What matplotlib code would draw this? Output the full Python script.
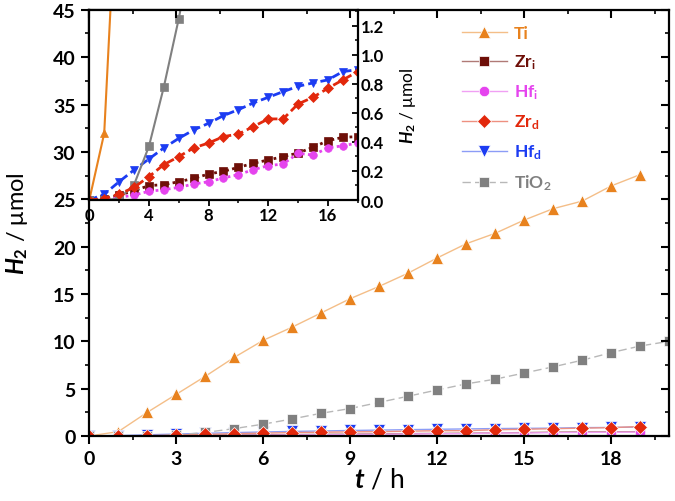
import numpy as np
import matplotlib
matplotlib.use('Agg')
import matplotlib.pyplot as plt
from matplotlib.ticker import MultipleLocator

plt.rcParams['font.family'] = ['Lato', 'DejaVu Sans']
plt.rcParams['font.weight'] = 'bold'
plt.rcParams['mathtext.fontset'] = 'custom'
plt.rcParams['mathtext.it'] = 'Lato:bold:italic'
plt.rcParams['mathtext.rm'] = 'Lato:bold'
plt.rcParams['mathtext.bf'] = 'Lato:bold'

# time in hours
t = np.arange(0, 21)

# H2 in umol
ti = [0, 0.46, 2.5, 4.4, 6.3, 8.3, 10.1, 11.5, 13.0, 14.5, 15.8, 17.2, 18.8, 20.3,
      21.4, 22.8, 24.0, 24.8, 26.4, 27.6]
tio2 = [0, 0.0, 0.01, 0.105, 0.37, 0.78, 1.25, 1.8, 2.4, 2.9, 3.55, 4.2, 4.86, 5.5,
        6.0, 6.65, 7.3, 8.0, 8.8, 9.5, 10.0]
zr_i = [0, 0.005, 0.034, 0.064, 0.099, 0.106, 0.126, 0.149, 0.179, 0.198, 0.225, 0.253,
        0.276, 0.299, 0.324, 0.363, 0.409, 0.432, 0.437, 0.46]
hf_i = [0, 0.0, 0.018, 0.034, 0.06, 0.071, 0.087, 0.11, 0.126, 0.152, 0.175, 0.209,
        0.237, 0.248, 0.322, 0.31, 0.359, 0.374, 0.393, 0.41]
zr_d = [0, 0.01, 0.04, 0.087, 0.161, 0.244, 0.299, 0.359, 0.393, 0.437, 0.455, 0.506,
        0.559, 0.559, 0.662, 0.708, 0.77, 0.828, 0.885, 1.0]
hf_d = [0, 0.04, 0.126, 0.207, 0.283, 0.359, 0.425, 0.483, 0.529, 0.582, 0.623, 0.669,
        0.708, 0.747, 0.784, 0.807, 0.828, 0.885, 0.899, 0.95]

# name, data, color, light line color, marker, main ms, inset linestyle
series = [
    ('Ti', ti, '#E8821E', '#F4BE88', '^', 9, '-'),
    ('Zr$_\\mathregular{i}$', zr_i, '#6E0F08', '#B07A76', 's', 7, (0, (1, 1.2))),
    ('Hf$_\\mathregular{i}$', hf_i, '#E544EE', '#F0A0F4', 'o', 7.5, (0, (1, 1.2))),
    ('Hf$_\\mathregular{d}$', hf_d, '#1C3CF2', '#8C9CF6', 'v', 8, (0, (3, 1.5))),
    ('TiO$_\\mathregular{2}$', tio2, '#808080', '#B8B8B8', 's', 7.5, '-'),
    ('Zr$_\\mathregular{d}$', zr_d, '#E2280C', '#EE9080', 'D', 7, (0, (3, 1.5))),
]
legend_order = [0, 1, 2, 5, 3, 4]

fig = plt.figure(figsize=(6.75, 5.02), dpi=100)
ax = fig.add_axes([0.1323, 0.1295, 0.859, 0.849])

lines = []
for name, y, c, lc, m, ms, ls in series:
    ls_main = (0, (6, 3)) if name.startswith('TiO') else '-'
    ln, = ax.plot(t[:len(y)], y, color=lc, lw=1, ls=ls_main, marker=m, ms=ms,
                  mfc=c, mec='white', mew=0.5, label=name)
    lines.append(ln)

ax.set_xlim(0, 20)
ax.set_ylim(0, 45)
ax.xaxis.set_major_locator(MultipleLocator(3))
ax.xaxis.set_minor_locator(MultipleLocator(1.5))
ax.yaxis.set_major_locator(MultipleLocator(5))
ax.yaxis.set_minor_locator(MultipleLocator(2.5))
ax.tick_params(which='major', direction='out', length=6, width=1.5, labelsize=14, pad=4)
ax.tick_params(which='minor', direction='out', length=3, width=1.2)
for s in ax.spines.values():
    s.set_linewidth(1.6)
ax.set_xlabel('$t$ / h', fontsize=19, labelpad=0)
ax.set_ylabel('$H_{2}$ / μmol', fontsize=17, labelpad=16)

leg = ax.legend([lines[i] for i in legend_order], [series[i][0] for i in legend_order],
                loc='upper left', bbox_to_anchor=(0.615, 1.0), frameon=False,
                fontsize=12.5, handlelength=2.6, handletextpad=0.4, labelspacing=0.65,
                labelcolor='markerfacecolor')

# inset
axin = fig.add_axes([0.1323, 0.5996, 0.3976, 0.3785])
axin.set_facecolor('white')
for name, y, c, lc, m, ms, ls in series:
    lw = 1.5 if ls == '-' else 2
    axin.plot(t[:len(y)], y, color=c, lw=lw, ls=ls, marker=m, ms=5.5,
              mfc=c, mec=c, mew=0.5)
axin.set_xlim(0, 18)
axin.set_ylim(0, 1.31)
axin.xaxis.set_major_locator(MultipleLocator(4))
axin.xaxis.set_minor_locator(MultipleLocator(2))
axin.yaxis.set_major_locator(MultipleLocator(0.2))
axin.yaxis.set_minor_locator(MultipleLocator(0.1))
axin.yaxis.tick_right()
axin.yaxis.set_label_position('right')
axin.tick_params(axis='x', which='both', direction='out', labelsize=12, pad=1)
axin.tick_params(axis='y', which='both', direction='in', labelsize=12, pad=2)
axin.tick_params(which='major', length=4, width=1.3)
axin.tick_params(which='minor', length=2, width=1.1)
axin.yaxis.set_major_formatter(plt.FuncFormatter(lambda v, p: f'{v:.1f}'))
for s in axin.spines.values():
    s.set_linewidth(1.6)
axin.set_ylabel('$H_{2}$ / μmol', fontsize=12.5, labelpad=10)

# top and right mirrored ticks, drawn over the inset
axt = fig.add_axes([0.1323, 0.1295, 0.859, 0.849], facecolor='none')
axt.set_xlim(ax.get_xlim())
axt.set_ylim(ax.get_ylim())
axt.xaxis.set_major_locator(MultipleLocator(3))
axt.xaxis.set_minor_locator(MultipleLocator(1.5))
axt.yaxis.set_major_locator(MultipleLocator(5))
axt.yaxis.set_minor_locator(MultipleLocator(2.5))
axt.tick_params(which='both', direction='in', bottom=False, left=False, top=True, right=True,
                labelbottom=False, labelleft=False)
axt.tick_params(which='major', length=6, width=1.5)
axt.tick_params(which='minor', length=3, width=1.2)
for s in axt.spines.values():
    s.set_visible(False)

fig.savefig('out.png', dpi=100)
